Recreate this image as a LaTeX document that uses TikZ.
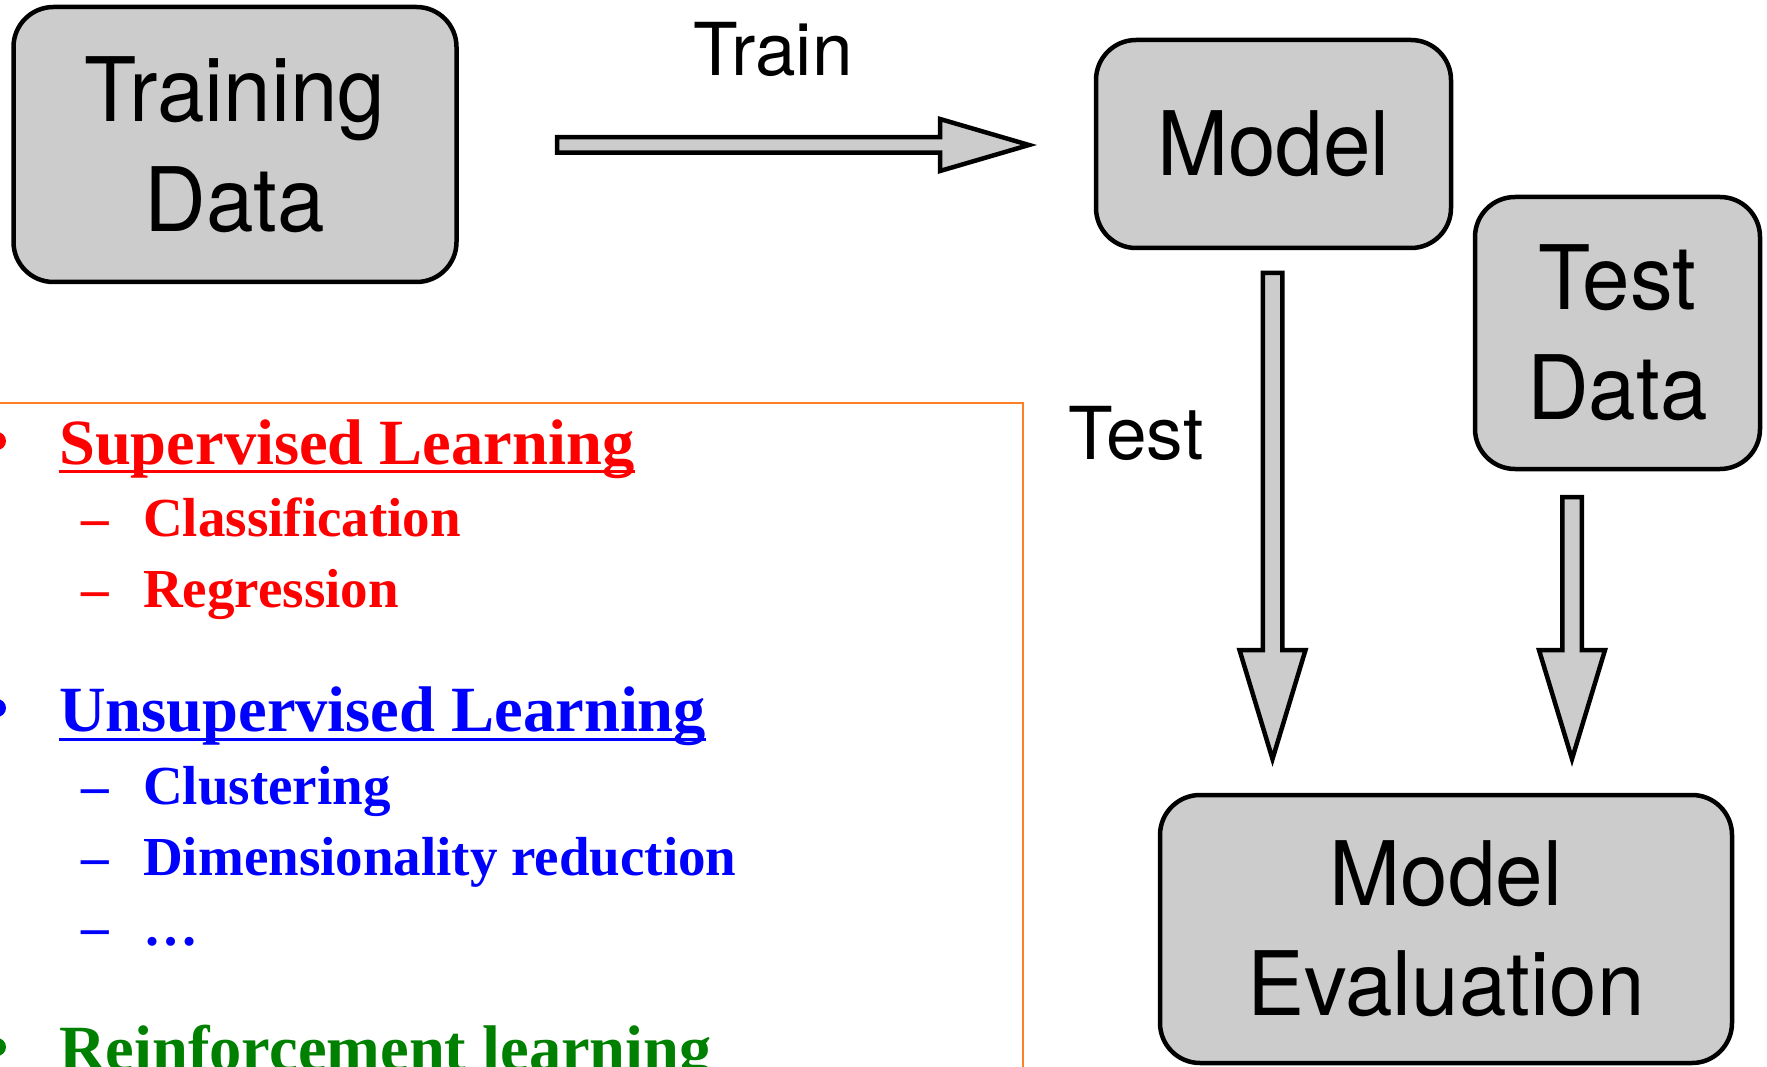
\documentclass[tikz,border=0pt]{standalone}
\usepackage{fontspec}
\setmainfont{Liberation Serif}
\newfontfamily\boxfont[FakeStretch=0.96]{TeX Gyre Heros}
\newfontfamily\lblfont{TeX Gyre Heros}
\usetikzlibrary{calc}
\definecolor{boxgray}{RGB}{204,204,204}
\definecolor{myred}{RGB}{255,0,0}
\definecolor{myblue}{RGB}{0,0,255}
\definecolor{mygreen}{RGB}{0,128,0}
\definecolor{myorange}{RGB}{255,127,39}
\tikzset{
  gbox/.style={draw=black, line width=4.5pt, fill=boxgray, rounded corners=40pt,
    inner sep=0pt, outer sep=0pt, align=center, font=\boxfont\fontsize{89}{110}\selectfont},
  lbl/.style={font=\lblfont\fontsize{73}{80}\selectfont, inner sep=0pt, anchor=base},
  barrow/.style={draw=black, line width=4.5pt, fill=boxgray, line join=miter},
  lvlone/.style={font=\bfseries\fontsize{64.5}{70}\selectfont, inner sep=0pt, anchor=base west},
  lvltwo/.style={font=\bfseries\fontsize{55}{60}\selectfont, inner sep=0pt, anchor=base west},
  uline/.style={line width=3pt},
}
% start, end, shaft half width, head half width, head length
\newcommand\hblockarrow[5]{%
  \draw[barrow] let \p1=(#1), \p2=(#2) in
   (\x1,\y1+#3) -- (\x2-#5,\y1+#3) -- (\x2-#5,\y1+#4) -- (\x2,\y1)
   -- (\x2-#5,\y1-#4) -- (\x2-#5,\y1-#3) -- (\x1,\y1-#3) -- cycle;}
\newcommand\vblockarrow[5]{%
  \draw[barrow] let \p1=(#1), \p2=(#2) in
   (\x1-#3,\y1) -- (\x1-#3,\y2+#5) -- (\x1-#4,\y2+#5) -- (\x1,\y2)
   -- (\x1+#4,\y2+#5) -- (\x1+#3,\y2+#5) -- (\x1+#3,\y1) -- cycle;}
\begin{document}
\begin{tikzpicture}[x=1pt,y=-1pt]
\useasboundingbox (0,0) rectangle (1767,1067);
\clip (0,0) rectangle (1767,1067);

% boxes
\node[gbox, minimum width=443pt, minimum height=275pt] (td) at (235,144.5) {Training\\Data};
\node[gbox, minimum width=355pt, minimum height=208pt] (model) at (1273.5,144) {Model};
\node[gbox, minimum width=285pt, minimum height=272pt] (testd) at (1617.5,333) {Test\\Data};
\node[gbox, minimum width=572pt, minimum height=268pt] (eval) at (1446,929) {Model\\Evaluation};

% labels
\node[lbl] (trainlbl) at (773,76) {Train};
\node[lbl] (testlbl) at (1136,459) {Test};

% arrows
\coordinate (a1s) at ($(td.east)+(100.5,0.5)$);
\coordinate (a1e) at ($(model.west)+(-67,1)$);
\hblockarrow{a1s}{a1e}{7.75pt}{26pt}{89pt}

\coordinate (a2s) at ($(model.south)+(-1,25)$);
\coordinate (a2e) at ($(a2s |- eval.north)+(0,-36)$);
\vblockarrow{a2s}{a2e}{9.75pt}{33pt}{109pt}

\coordinate (a3s) at ($(testd.south)+(-45.5,28)$);
\coordinate (a3e) at ($(a3s |- eval.north)+(0,-36)$);
\vblockarrow{a3s}{a3e}{9.75pt}{33pt}{109pt}

% left panel
\draw[myorange, line width=1.7pt] (-20,403) rectangle (1023,1100);

\fill[myred] (-3,441) circle[radius=9pt];
\node[lvlone, text=myred] (sup) at (59,464) {Supervised Learning};
\draw[myred, uline] ($(sup.base west)+(0,7)$) -- ($(sup.base east)+(0,7)$);
\node[lvltwo, text=myred] (d1) at (81,536) {–};
\node[lvltwo, text=myred] (cls) at (143,536) {Classification};
\node[lvltwo, text=myred] (d2) at (81,607) {–};
\node[lvltwo, text=myred] (reg) at (143,607) {Regression};

\fill[myblue] (-3,708) circle[radius=9pt];
\node[lvlone, text=myblue] (uns) at (59,731) {Unsupervised Learning};
\draw[myblue, uline] ($(uns.base west)+(0,8)$) -- ($(uns.base east)+(0,8)$);
\node[lvltwo, text=myblue] (d3) at (81,804) {–};
\node[lvltwo, text=myblue] (clu) at (143,804) {Clustering};
\node[lvltwo, text=myblue] (d4) at (81,875) {–};
\node[lvltwo, text=myblue] (dim) at (143,875) {Dimensionality reduction};
\node[lvltwo, text=myblue] (d5) at (81,945) {–};
\node[lvltwo, text=myblue] (dots) at (143,945) {…};

\fill[mygreen] (-3,1047) circle[radius=9pt];
\node[lvlone, text=mygreen] (rl) at (59,1070) {Reinforcement learning};
\end{tikzpicture}
\end{document}
